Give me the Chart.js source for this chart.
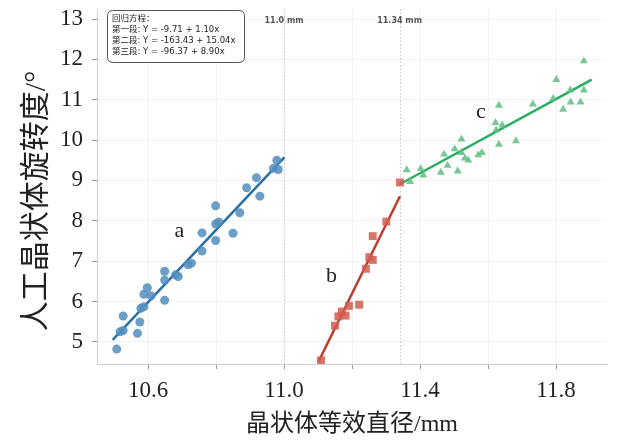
<!DOCTYPE html>
<html>
<head>
<meta charset="utf-8">
<script src="https://cdn.jsdelivr.net/npm/chart.js@4.4.1/dist/chart.umd.min.js"></script>
<style>
  html, body { margin: 0; padding: 0; background: #fff; }
  #wrap { width: 631px; height: 441px; }
</style>
</head>
<body>
<div id="wrap"><canvas id="chart"></canvas></div>
<script>
// segment a (blue circles)
const segAx = [10.508, 10.518, 10.527, 10.527, 10.569, 10.576, 10.579, 10.588, 10.588, 10.598, 10.609,
  10.649, 10.649, 10.649, 10.681, 10.689, 10.718, 10.728, 10.759, 10.759, 10.799, 10.799, 10.808,
  10.799, 10.850, 10.870, 10.890, 10.919, 10.929, 10.969, 10.979, 10.983];
const segAy = [4.82, 5.25, 5.28, 5.64, 5.21, 5.49, 5.83, 5.87, 6.18, 6.34, 6.14,
  6.03, 6.53, 6.75, 6.66, 6.62, 6.91, 6.95, 7.25, 7.70, 7.51, 7.92, 7.97,
  8.37, 7.69, 8.20, 8.82, 9.07, 8.61, 9.30, 9.50, 9.27];

// segment b (red squares)
const segBx = [11.109, 11.150, 11.160, 11.170, 11.181, 11.191, 11.221, 11.241, 11.251, 11.261, 11.261, 11.301, 11.341];
const segBy = [4.54, 5.40, 5.63, 5.75, 5.65, 5.89, 5.92, 6.81, 7.10, 7.03, 7.62, 7.98, 8.95];

// segment c (green triangles)
const segCx = [11.361, 11.371, 11.402, 11.410, 11.461, 11.471, 11.481, 11.502, 11.511, 11.522, 11.522,
  11.532, 11.542, 11.571, 11.582, 11.622, 11.624, 11.632, 11.632, 11.642, 11.682, 11.732, 11.792,
  11.801, 11.821, 11.842, 11.843, 11.872, 11.882, 11.882];
const segCy = [9.26, 8.97, 9.29, 9.13, 9.20, 9.65, 9.37, 9.78, 9.23, 10.02, 9.69,
  9.55, 9.50, 9.63, 9.69, 10.43, 10.25, 9.89, 10.86, 10.37, 9.98, 10.89, 11.03,
  11.50, 10.76, 11.24, 10.94, 10.94, 11.24, 11.96];

// fitted lines (end points)
const fitAx = [10.496, 11.001], fitAy = [5.05, 9.57];
const fitBx = [11.101, 11.341], fitBy = [4.50, 8.61];
const fitCx = [11.339, 11.905], fitCy = [8.90, 11.50];

// breakpoints
const breakX = [11.0, 11.34];
const breakLabels = ["11.0 mm", "11.34 mm"];

// segment names
const segNames = ["a", "b", "c"];
const segNameX = [10.692, 11.140, 11.579];
const segNameY = [7.73, 6.62, 10.68];

// equation box
const eqLines = ["回归方程：", "第一段: Y = -9.71 + 1.10x", "第二段: Y = -163.43 + 15.04x", "第三段: Y = -96.37 + 8.90x"];

// ticks
const xTicks = [10.6, 10.8, 11.0, 11.2, 11.4, 11.6, 11.8];
const xTickLabels = [10.6, 11.0, 11.4, 11.8];
const yTicks = [5, 6, 7, 8, 9, 10, 11, 12, 13];

const xTitle = "晶状体等效直径/mm";
const yTitle = "人工晶状体旋转度/°";

const pts = (xs, ys) => xs.map((x, i) => ({ x: x, y: ys[i] }));
const SERIF = "'Liberation Serif', 'Noto Sans CJK SC', serif";

const overlay = {
  id: "overlay",
  beforeDatasetsDraw(chart) {
    const { ctx, chartArea, scales } = chart;
    ctx.save();
    ctx.strokeStyle = "#c8c8c8";
    ctx.lineWidth = 1;
    ctx.setLineDash([1.5, 2]);
    breakX.forEach((v) => {
      const px = Math.round(scales.x.getPixelForValue(v)) + 0.5;
      ctx.beginPath();
      ctx.moveTo(px, chartArea.top);
      ctx.lineTo(px, chartArea.bottom);
      ctx.stroke();
    });
    ctx.restore();
  },
  afterDatasetsDraw(chart) {
    const { ctx, chartArea, scales } = chart;
    ctx.save();
    // breakpoint labels
    ctx.font = "bold 8px 'DejaVu Sans', sans-serif";
    ctx.fillStyle = "#555";
    ctx.textAlign = "center";
    ctx.textBaseline = "middle";
    breakX.forEach((v, i) => {
      ctx.fillText(breakLabels[i], scales.x.getPixelForValue(v), chartArea.top + 12);
    });
    // segment names
    ctx.font = "22px " + SERIF;
    ctx.fillStyle = "#222";
    segNames.forEach((n, i) => {
      ctx.fillText(n, scales.x.getPixelForValue(segNameX[i]), scales.y.getPixelForValue(segNameY[i]));
    });
    // equation box
    const bx = chartArea.left + 10, by = chartArea.top + 1, bw = 137, bh = 52;
    ctx.beginPath();
    ctx.roundRect(bx + 0.5, by + 0.5, bw, bh, 5);
    ctx.fillStyle = "#fff";
    ctx.fill();
    ctx.strokeStyle = "#555";
    ctx.lineWidth = 1;
    ctx.stroke();
    ctx.font = "8.5px 'DejaVu Sans', 'Noto Sans CJK SC', sans-serif";
    ctx.fillStyle = "#222";
    ctx.textAlign = "left";
    eqLines.forEach((t, i) => {
      ctx.fillText(t, bx + 5, by + 9 + i * 11);
    });
    // y title
    ctx.font = "30px " + SERIF;
    ctx.fillStyle = "#222";
    ctx.textAlign = "center";
    ctx.translate(37, 201);
    ctx.rotate(-Math.PI / 2);
    ctx.fillText(yTitle, 0, 0);
    ctx.restore();
  }
};

new Chart(document.getElementById("chart"), {
  type: "scatter",
  data: {
    datasets: [
      { data: pts(segAx, segAy), pointStyle: "circle", pointRadius: 4.5, borderWidth: 0,
        backgroundColor: "rgba(82,142,190,0.85)" },
      { data: pts(segBx, segBy), pointStyle: "rect", pointRadius: 5.6, borderWidth: 0,
        backgroundColor: "rgba(210,92,80,0.85)" },
      { data: pts(segCx, segCy), pointStyle: "triangle", pointRadius: 4.6, borderWidth: 0,
        backgroundColor: "rgba(96,190,130,0.85)" },
      { type: "line", data: pts(fitAx, fitAy), borderColor: "#2a6fa3", borderWidth: 2.5, pointRadius: 0 },
      { type: "line", data: pts(fitBx, fitBy), borderColor: "#c0392b", borderWidth: 2.5, pointRadius: 0 },
      { type: "line", data: pts(fitCx, fitCy), borderColor: "#27ae60", borderWidth: 2.5, pointRadius: 0 }
    ]
  },
  options: {
    responsive: true,
    maintainAspectRatio: false,
    animation: false,
    layout: { padding: { top: 9, right: 24, left: 0, bottom: 0 } },
    plugins: { legend: { display: false }, tooltip: { enabled: false } },
    scales: {
      x: {
        type: "linear",
        min: 10.45, max: 11.95,
        afterBuildTicks: (s) => { s.ticks = xTicks.map((v) => ({ value: v })); },
        afterFit: (s) => { s.height = 77; s.paddingLeft = 0; s.paddingRight = 0; },
        grid: { color: "#f2f2f2", tickColor: "#999", tickLength: 5 },
        border: { color: "#d0d0d0" },
        ticks: {
          padding: 8,
          color: "#222",
          font: { family: SERIF, size: 23 },
          callback: (v) => (xTickLabels.some((t) => Math.abs(t - v) < 1e-6) ? v.toFixed(1) : "")
        },
        title: {
          display: true, text: xTitle, color: "#222",
          font: { family: SERIF, size: 24, lineHeight: 1 },
          padding: { top: 0, bottom: 4 }
        }
      },
      y: {
        type: "linear",
        min: 4.45, max: 13.25,
        afterBuildTicks: (s) => { s.ticks = yTicks.map((v) => ({ value: v })); },
        afterFit: (s) => { s.width = 97; s.paddingTop = 0; s.paddingBottom = 0; },
        grid: { color: "#f2f2f2", tickColor: "#999", tickLength: 5 },
        border: { color: "#d0d0d0" },
        ticks: {
          padding: 9,
          color: "#222",
          font: { family: SERIF, size: 23 },
          callback: (v) => String(v)
        }
      }
    }
  },
  plugins: [overlay]
});
</script>
</body>
</html>
